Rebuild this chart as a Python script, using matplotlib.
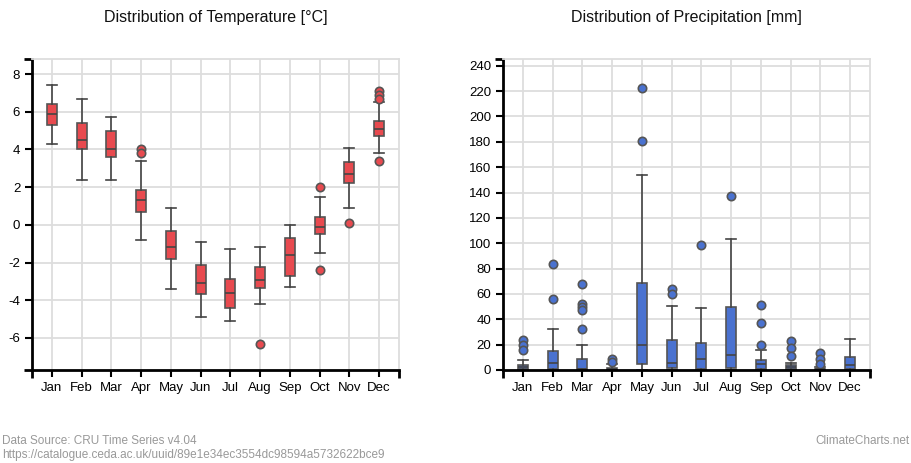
import matplotlib
matplotlib.use("Agg")
import matplotlib.pyplot as plt

plt.rcParams['font.family'] = ['Liberation Sans', 'DejaVu Sans']
plt.rcParams['axes.unicode_minus'] = False

months = ['Jan', 'Feb', 'Mar', 'Apr', 'May', 'Jun', 'Jul', 'Aug', 'Sep', 'Oct', 'Nov', 'Dec']

# temperature box statistics [°C]
temp_whislo = [4.3, 2.4, 2.4, -0.8, -3.4, -4.9, -5.1, -4.2, -3.3, -1.5, 0.9, 3.8]
temp_q1 = [5.3, 4.0, 3.6, 0.7, -1.8, -3.65, -4.4, -3.35, -2.7, -0.5, 2.2, 4.7]
temp_med = [5.9, 4.5, 4.05, 1.3, -1.15, -3.1, -3.6, -2.9, -1.6, -0.1, 2.7, 5.1]
temp_q3 = [6.4, 5.4, 5.0, 1.85, -0.3, -2.15, -2.85, -2.25, -0.7, 0.4, 3.35, 5.5]
temp_whishi = [7.4, 6.7, 5.7, 3.4, 0.9, -0.9, -1.3, -1.2, 0.0, 1.5, 4.1, 6.5]
temp_fliers = [[], [], [], [4.0, 3.8], [], [], [], [-6.3], [], [2.0, -2.4], [0.1],
               [7.1, 6.9, 6.7, 3.4]]

# precipitation box statistics [mm]
prec_whislo = [0, 0, 0, 0, 0, 0, 0, 0, 0, 0, 0, 0]
prec_q1 = [0.5, 0.5, 0.5, 0.3, 5.0, 1.5, 1.0, 1.5, 0.7, 0.6, 0.1, 0.8]
prec_med = [2.0, 5.5, 1.0, 0.8, 19.7, 5.8, 8.5, 11.5, 4.6, 2.1, 0.4, 4.3]
prec_q3 = [4.3, 15.0, 8.8, 1.9, 68.9, 23.4, 21.5, 49.7, 8.0, 3.8, 1.0, 10.4]
prec_whishi = [7.6, 32.6, 20.0, 4.5, 154.0, 50.2, 48.9, 103.6, 15.6, 5.8, 2.0, 24.3]
prec_fliers = [[24, 19.5, 16], [84, 55.7], [68, 51.8, 49.5, 47.3, 32], [8.3, 6],
               [222.7, 180.9], [64.1, 60.2], [98.6], [137.5], [51.3, 37, 20],
               [22.8, 17, 11.4], [13.5, 8.5, 4.5], []]

GRID = '#dddddd'
EDGE = '#555555'


def make_stats(lo, q1, med, q3, hi, fl):
    return [dict(whislo=a, q1=b, med=c, q3=d, whishi=e, fliers=f)
            for a, b, c, d, e, f in zip(lo, q1, med, q3, hi, fl)]


def draw_box(ax, stats, color, ylim, yticks, title):
    pos = list(range(len(months)))
    ax.bxp(stats, positions=pos, widths=0.34, capwidths=0.34, patch_artist=True,
           boxprops=dict(facecolor=color, edgecolor=EDGE, linewidth=1.2),
           medianprops=dict(color='#444444', linewidth=1.2),
           whiskerprops=dict(color='#444444', linewidth=1.2),
           capprops=dict(color='#444444', linewidth=1.2),
           flierprops=dict(marker='o', markerfacecolor=color, markeredgecolor=EDGE,
                           markersize=6, markeredgewidth=1.2))
    ax.set_xlim(-0.67, 11.67)
    ax.set_ylim(*ylim)
    ax.set_xticks(pos)
    ax.set_xticklabels(months)
    ax.set_yticks(yticks)
    # outer ticks at the axis ends
    ax.set_xticks([-0.67, 11.67], minor=True)
    ax.set_yticks([ylim[0], ylim[1]], minor=True)
    ax.grid(True, color=GRID, linewidth=1.3)
    ax.set_axisbelow(True)
    for s in ['top', 'right']:
        ax.spines[s].set_color(GRID)
        ax.spines[s].set_linewidth(1.3)
    for s in ['left', 'bottom']:
        ax.spines[s].set_color('black')
        ax.spines[s].set_linewidth(2)
    ax.tick_params(which='both', length=5, width=1.5, color='black', labelsize=9.5,
                   top=False, right=False)
    ax.tick_params(which='minor', length=6, width=2)
    ax.text(0.5, 1.0 + 42 / 311, title, transform=ax.transAxes, ha='center',
            va='center', fontsize=11.5, color='#111111')


fig = plt.figure(figsize=(9.12, 4.63), dpi=100)
ax1 = fig.add_axes([32 / 912, 1 - 370 / 463, 367 / 912, 311 / 463])
ax2 = fig.add_axes([503 / 912, 1 - 370 / 463, 367 / 912, 311 / 463])

draw_box(ax1, make_stats(temp_whislo, temp_q1, temp_med, temp_q3, temp_whishi, temp_fliers),
         '#e84a4f', (-7.7, 8.8), range(-6, 9, 2), 'Distribution of Temperature [°C]')
draw_box(ax2, make_stats(prec_whislo, prec_q1, prec_med, prec_q3, prec_whishi, prec_fliers),
         '#4a72d0', (0, 245.3), range(0, 241, 20), 'Distribution of Precipitation [mm]')

fig.text(0.002, 1 - 441 / 463, 'Data Source: CRU Time Series v4.04', fontsize=8.5,
         color='#999999', va='center', ha='left')
fig.text(0.002, 1 - 455 / 463, 'https://catalogue.ceda.ac.uk/uuid/89e1e34ec3554dc98594a5732622bce9',
         fontsize=8.5, color='#999999', va='center', ha='left')
fig.text(910 / 912, 1 - 441 / 463, 'ClimateCharts.net', fontsize=8.5, color='#999999',
         va='center', ha='right')

fig.savefig('out.png', dpi=100)
